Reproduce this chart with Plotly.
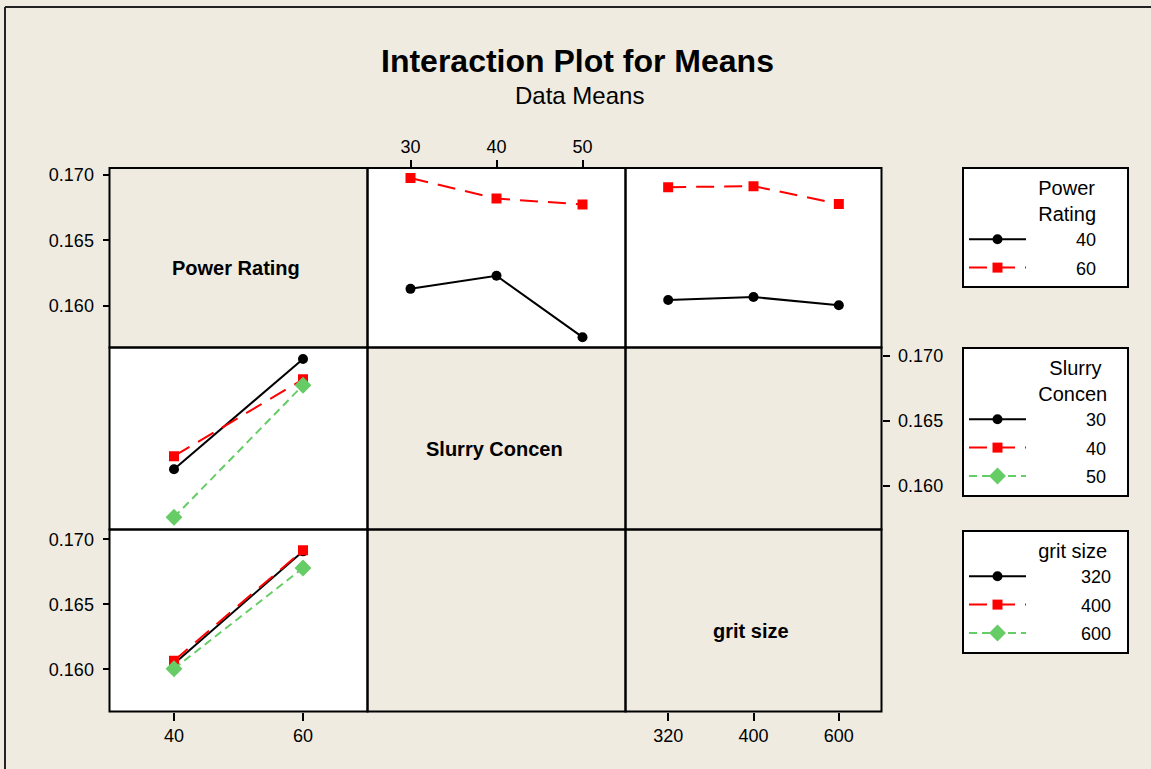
import plotly.graph_objects as go

# ---------------- data ----------------
power_levels = ["40", "60"]
slurry_levels = ["30", "40", "50"]
grit_levels = ["320", "400", "600"]

# mean response, Power Rating x Slurry Concen
pr40_by_slurry = [0.16129, 0.16229, 0.15759]
pr60_by_slurry = [0.16977, 0.16820, 0.16775]
# mean response, Power Rating x grit size
pr40_by_grit = [0.16043, 0.16066, 0.16004]
pr60_by_grit = [0.16907, 0.16915, 0.16779]

y_tick_values = [0.160, 0.165, 0.170]
y_tick_labels = ["0.160", "0.165", "0.170"]

by_slurry = [pr40_by_slurry, pr60_by_slurry]
by_grit = [pr40_by_grit, pr60_by_grit]

# ---------------- layout geometry ----------------
W, H = 1151, 769
BG = "#EFEBE1"
FONT = "Liberation Sans"

col_px = [109.5, 367.5, 625.5, 881.5]
row_px = [168, 347.5, 529.5, 711.5]
cx = [v / W for v in col_px]
ry = [1 - v / H for v in row_px]

styles = [
    dict(color="black", dash="solid", symbol="circle", size=10),
    dict(color="#FF0000", dash="18px,10px", symbol="square", size=10),
    dict(color="#66CC66", dash="8px,5px", symbol="diamond", size=13),
]

NB = "\u00a0"


def pad(label, lead, trail):
    return NB * lead + label + NB * trail


fig = go.Figure()


def add_line(x, y, xa, ya, k, name, legend, showlegend, group):
    s = styles[k]
    fig.add_trace(go.Scatter(
        x=x, y=y, xaxis=xa, yaxis=ya, mode="lines+markers",
        line=dict(color=s["color"], width=2, dash=s["dash"]),
        marker=dict(symbol=s["symbol"], size=s["size"], color=s["color"]),
        name=name, legend=legend, showlegend=showlegend, legendgroup=group,
        hoverinfo="x+y+name",
    ))


# Row 1: Power Rating as trace, Slurry (col2) and grit (col3) on x
for i, lvl in enumerate(power_levels):
    add_line(slurry_levels, by_slurry[i], "x2", "y", i, pad(lvl, 9, 5), "legend", True, "pr" + lvl)
    add_line(grit_levels, by_grit[i], "x3", "y", i, pad(lvl, 9, 5), "legend", False, "pr" + lvl)

# Row 2: Slurry as trace, Power Rating on x
for j, lvl in enumerate(slurry_levels):
    yv = [by_slurry[i][j] for i in range(len(power_levels))]
    add_line(power_levels, yv, "x", "y2", j, pad(lvl, 11, 3), "legend2", True, "sl" + lvl)

# Row 3: grit as trace, Power Rating on x
for j, lvl in enumerate(grit_levels):
    yv = [by_grit[i][j] for i in range(len(power_levels))]
    add_line(power_levels, yv, "x", "y3", j, pad(lvl, 10, 2), "legend3", True, "gr" + lvl)

tickfont = dict(family=FONT, size=18, color="black")


def xaxis(levels, col, pos, side):
    return dict(
        type="category", categoryarray=levels, range=[-0.5, len(levels) - 0.5],
        domain=[cx[col], cx[col + 1]], anchor="free", position=pos, side=side,
        showgrid=False, zeroline=False, showline=False, ticks="outside",
        ticklen=8, tickwidth=1.5, tickcolor="black", tickfont=tickfont,
        automargin=False, fixedrange=True,
    )


def yaxis(row, rng, pos, side):
    return dict(
        range=rng, domain=[ry[row + 1], ry[row]], anchor="free", position=pos,
        side=side, tickmode="array", tickvals=y_tick_values, ticktext=y_tick_labels,
        showgrid=False, zeroline=False, showline=False, ticks="outside",
        ticklen=7, tickwidth=1.5, tickcolor="black", tickfont=tickfont,
        ticklabelstandoff=5, automargin=False, fixedrange=True,
    )


shapes = []
# white backgrounds for the data panels
for (c, r) in [(1, 0), (2, 0), (0, 1), (0, 2)]:
    shapes.append(dict(type="rect", xref="paper", yref="paper", layer="below",
                       x0=cx[c], x1=cx[c + 1], y0=ry[r + 1], y1=ry[r],
                       fillcolor="white", line=dict(width=0)))
# panel borders
for c in range(3):
    for r in range(3):
        shapes.append(dict(type="rect", xref="paper", yref="paper", layer="above",
                           x0=cx[c], x1=cx[c + 1], y0=ry[r + 1], y1=ry[r],
                           fillcolor="rgba(0,0,0,0)", line=dict(color="black", width=2)))
# outer frame (top and left edges visible)
shapes.append(dict(type="line", xref="paper", yref="paper", x0=5 / W, x1=1.0,
                   y0=1 - 7 / H, y1=1 - 7 / H, line=dict(color="#222222", width=2)))
shapes.append(dict(type="line", xref="paper", yref="paper", x0=5 / W, x1=5 / W,
                   y0=0.0, y1=1 - 7 / H, line=dict(color="#222222", width=2)))

diag_names = ["Power Rating", "Slurry Concen", "grit size"]
annotations = [
    dict(text="<b>Interaction Plot for Means</b>", x=578 / W, y=1 - 61 / H, xref="paper",
         yref="paper", showarrow=False, xanchor="center", yanchor="middle",
         font=dict(family=FONT, size=32, color="black")),
    dict(text="Data Means", x=579 / W, y=1 - 95 / H, xref="paper", yref="paper",
         showarrow=False, xanchor="center", yanchor="middle",
         font=dict(family=FONT, size=24, color="black")),
]
for k, nm in enumerate(diag_names):
    annotations.append(dict(
        text="<b>" + nm + "</b>", x=(cx[k] + cx[k + 1]) / 2 - 2.5 / W,
        y=(ry[k] + ry[k + 1]) / 2 - 10 / H, xref="paper", yref="paper",
        showarrow=False, xanchor="center", yanchor="middle",
        font=dict(family=FONT, size=20, color="black")))

title_font = dict(family=FONT, size=20, color="black")
legend_common = dict(
    xanchor="left", yanchor="top", x=962 / W, bgcolor="white", bordercolor="black",
    borderwidth=2, font=dict(family=FONT, size=18, color="black"),
    itemwidth=57, tracegroupgap=2, itemclick=False, itemdoubleclick=False,
)

fig.update_layout(
    width=W, height=H, template="none",
    margin=dict(l=0, r=0, t=0, b=0),
    paper_bgcolor=BG, plot_bgcolor=BG,
    xaxis=xaxis(power_levels, 0, ry[3], "bottom"),
    xaxis2=xaxis(slurry_levels, 1, ry[0], "top"),
    xaxis3=xaxis(grit_levels, 2, ry[3], "bottom"),
    yaxis=yaxis(0, [0.15680, 0.17054], cx[0], "left"),
    yaxis2=yaxis(1, [0.15665, 0.17065], cx[3], "right"),
    yaxis3=yaxis(2, [0.15675, 0.17075], cx[0], "left"),
    shapes=shapes, annotations=annotations,
    legend=dict(legend_common, y=1 - 167 / H,
                title=dict(text=NB * 13 + "Power<br>" + NB * 13 + "Rating", font=title_font)),
    legend2=dict(legend_common, y=1 - 347 / H,
                 title=dict(text=NB * 15 + "Slurry<br>" + NB * 13 + "Concen", font=title_font)),
    legend3=dict(legend_common, y=1 - 530 / H,
                 title=dict(text=NB * 13 + "grit size", font=title_font)),
    showlegend=True,
)

fig.write_html(
    "out.html",
    config={"displayModeBar": False},
    post_script="document.body.style.margin='0px';"
                "document.body.style.backgroundColor='#EFEBE1';",
)
